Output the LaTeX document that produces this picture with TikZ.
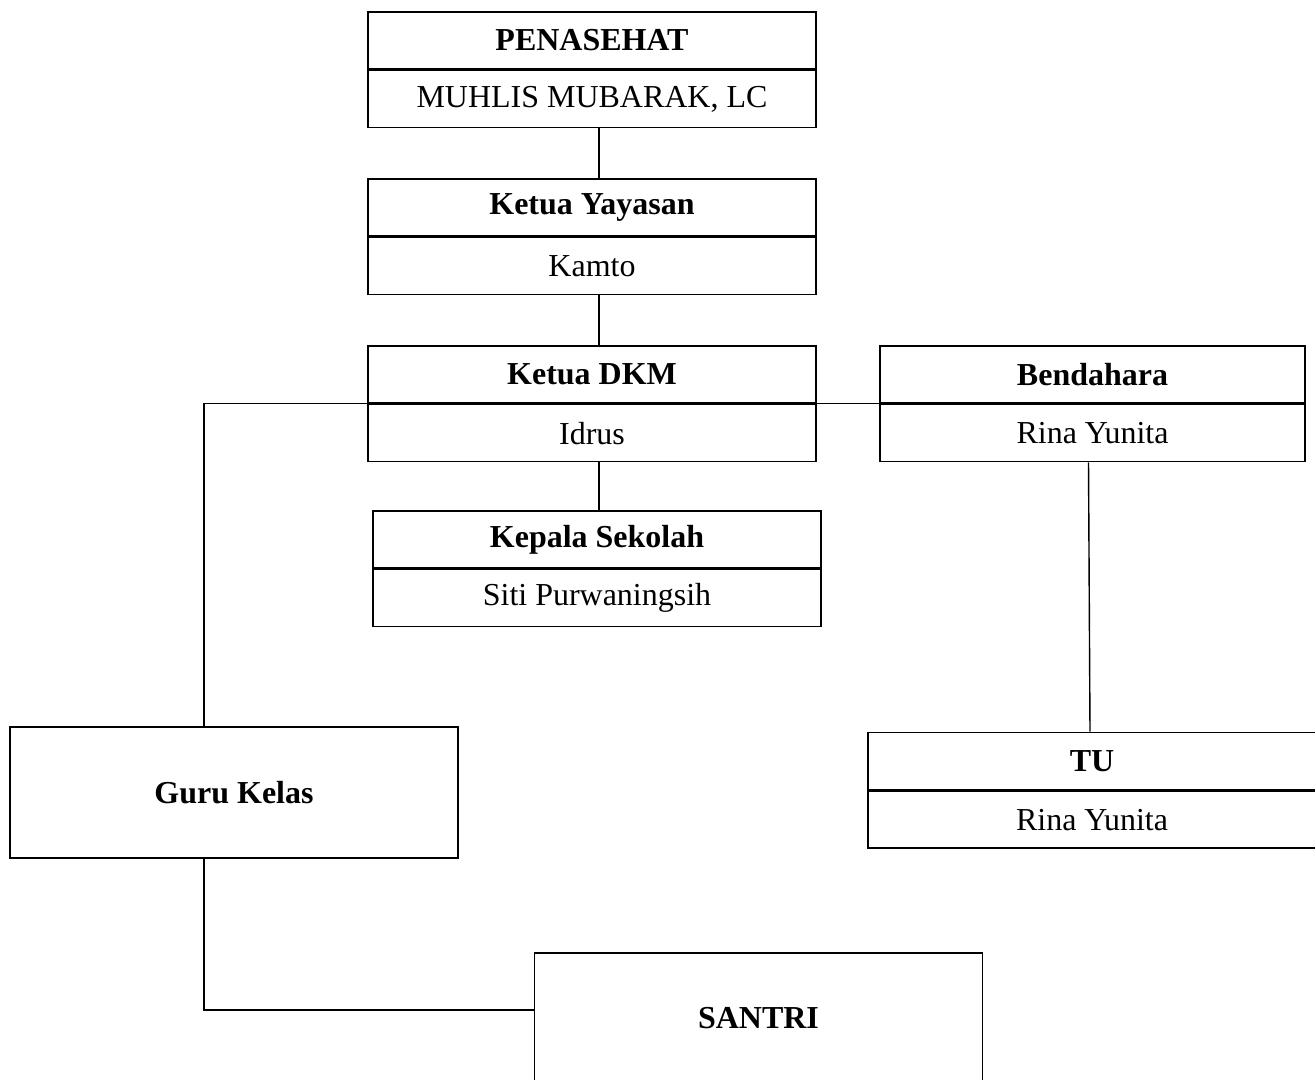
\documentclass[tikz,border=0pt]{standalone}
\usepackage{fontspec}
\setmainfont{Liberation Serif}
\usetikzlibrary{positioning}

\begin{document}
\begin{tikzpicture}[x=0.02cm, y=-0.02cm,
      every node/.style={draw, line width=0.9pt, minimum width=8.96cm, minimum height=1.14cm, inner sep=0pt, text centered, font=\fontsize{18.2}{21}\selectfont},
      judul/.style={font=\fontsize{18.2}{21}\selectfont\bfseries},
      garis/.style={line width=0.8pt}
    ]
    \useasboundingbox (0,0) rectangle (1315,1079);

    % Penasehat
    \node (penasehat) [judul] at (592,40.5) {PENASEHAT};
    \node (penasehatNama) [below=0pt of penasehat] {MUHLIS MUBARAK, LC};

    % Ketua Yayasan
    \node (yayasan) [judul] at (592,207.5) {Ketua Yayasan};
    \node (yayasanNama) [below=0pt of yayasan] {Kamto};

    % Ketua DKM
    \node (dkm) [judul] at (592,374.5) {Ketua DKM};
    \node (dkmNama) [below=0pt of dkm] {Idrus};

    % Bendahara
    \node (bendahara) [judul, minimum width=8.5cm] at (1092.5,374.5) {Bendahara};
    \node (bendaharaNama) [below=0pt of bendahara, minimum width=8.5cm] {Rina Yunita};

    % Kepala Sekolah
    \node (kepala) [judul] at (597,539.5) {Kepala Sekolah};
    \node (kepalaNama) [below=0pt of kepala] {Siti Purwaningsih};

    % TU
    \node (tu) [judul] at (1092,761) {TU};
    \node (tuNama) [below=0pt of tu] {Rina Yunita};

    % Guru Kelas dan Santri
    \node (guru) [judul, minimum height=2.62cm] at (234,792.5) {Guru Kelas};
    \node (santri) [judul, minimum height=2.62cm] at (758.5,1018.5) {SANTRI};

    % Garis penghubung
    \draw [garis] ([xshift=0.14cm]penasehatNama.south) -- ([xshift=0.14cm]yayasan.north);
    \draw [garis] ([xshift=0.14cm]yayasanNama.south) -- ([xshift=0.14cm]dkm.north);
    \draw [garis] ([xshift=0.14cm]dkmNama.south) -- ([xshift=0.14cm]dkmNama.south |- kepala.north);
    \draw [garis] (dkm.south east) -- (bendahara.south west);
    \draw [garis] (dkm.south west) -| ([xshift=-0.6cm]guru.north);
    \draw [garis] ([xshift=-0.08cm]bendaharaNama.south) -- ([xshift=-0.04cm]tu.north);
    \draw [garis] ([xshift=-0.6cm]guru.south) |- ([yshift=0.17cm]santri.west);
\end{tikzpicture}
\end{document}
